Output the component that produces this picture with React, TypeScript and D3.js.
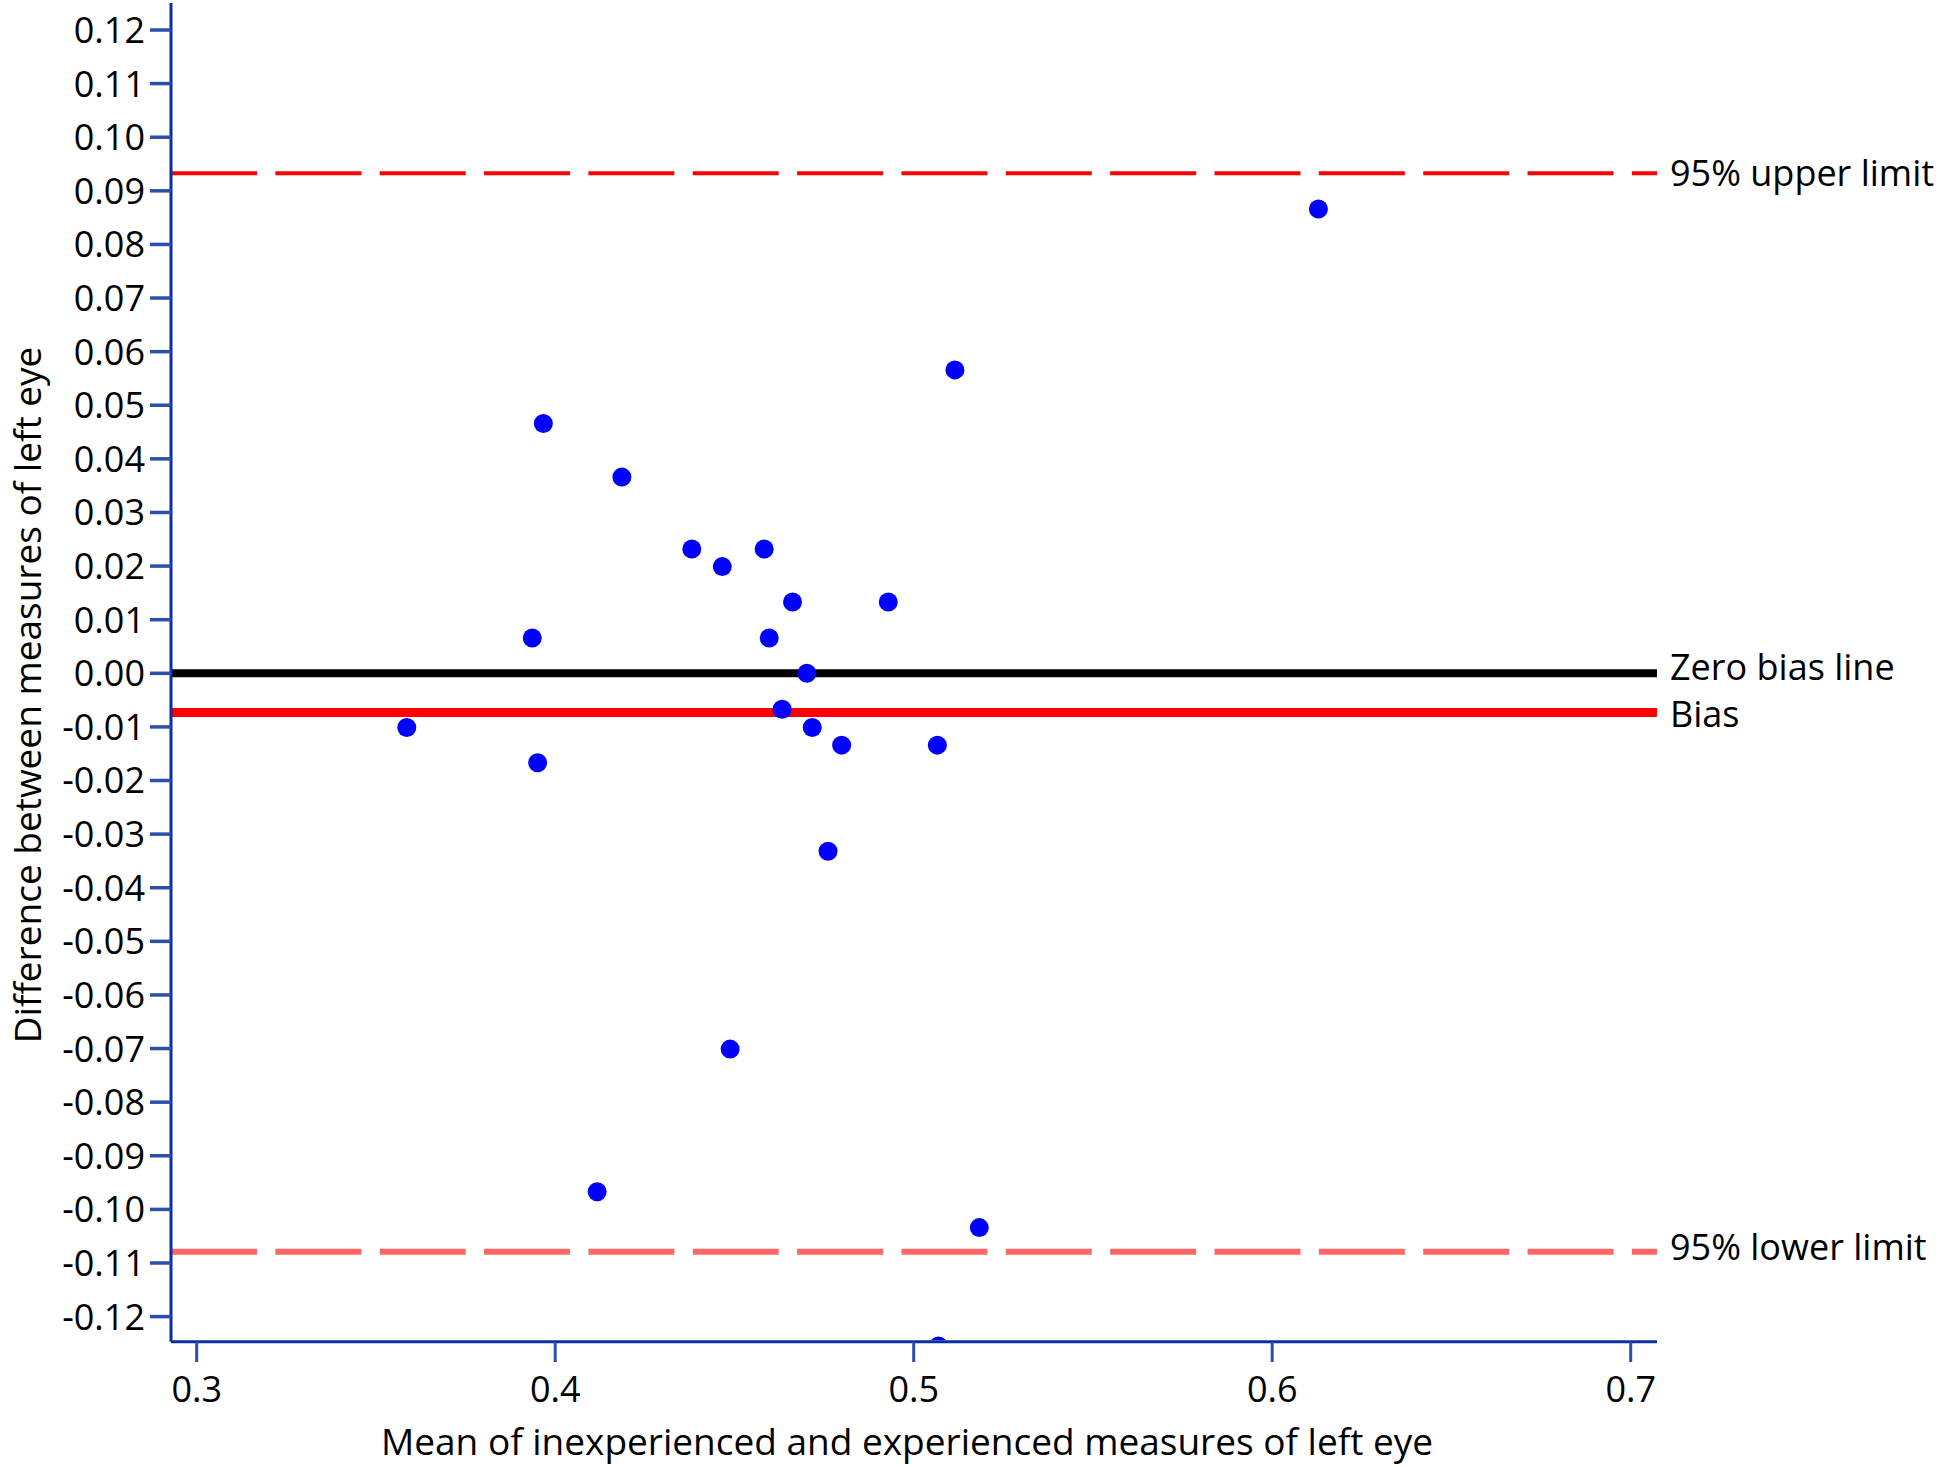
import React from "react";
import * as d3 from "d3";

// ---- data ----
const meanValues = [
  0.3586, 0.3936, 0.3951, 0.3967, 0.4117, 0.4186, 0.4381, 0.4466, 0.4488,
  0.4583, 0.4597, 0.4633, 0.4662, 0.4702, 0.4717, 0.4761, 0.4799, 0.4929,
  0.5066, 0.5069, 0.5115, 0.5183, 0.6129,
];
const diffValues = [
  -0.0101, 0.0066, -0.0167, 0.0466, -0.0967, 0.0366, 0.0232, 0.0199, -0.0701,
  0.0232, 0.0066, -0.0067, 0.0133, 0.0, -0.0101, -0.0332, -0.0134, 0.0133,
  -0.0134, -0.1255, 0.0566, -0.1034, 0.0866,
];
const upperLimit = 0.0933;
const lowerLimit = -0.1079;
const biasValue = -0.0073;
const zeroValue = 0;

const yTickValues = [
  0.12, 0.11, 0.1, 0.09, 0.08, 0.07, 0.06, 0.05, 0.04, 0.03, 0.02, 0.01, 0.0,
  -0.01, -0.02, -0.03, -0.04, -0.05, -0.06, -0.07, -0.08, -0.09, -0.1, -0.11,
  -0.12,
];
const yTickLabels = yTickValues.map((v) => (v === 0 ? "0.00" : v.toFixed(2)));
const xTickValues = [0.3, 0.4, 0.5, 0.6, 0.7];
const xTickLabels = ["0.3", "0.4", "0.5", "0.6", "0.7"];

const xTitle = "Mean of inexperienced and experienced measures of left eye";
const yTitle = "Difference between measures of left eye";
const lineLabels = {
  upper: "95% upper limit",
  zero: "Zero bias line",
  bias: "Bias",
  lower: "95% lower limit",
};

// ---- layout ----
const W = 1946;
const H = 1467;
const axisLeft = 171;
const axisRight = 1657;
const axisTop = 3;
const axisBottom = 1341.7;
const FONT = "'Open Sans', 'Noto Sans', sans-serif";
const AXIS_COLOR = "#0b2f9f";
const TICK_COLOR = "#2a4fae";

export default function App() {
  const x = d3.scaleLinear().domain([0.3, 0.7]).range([196.7, 1630.7]);
  const y = d3.scaleLinear().domain([-0.12, 0.12]).range([1316.6, 30]);

  const points = meanValues.map((m, i) => ({ m, d: diffValues[i] }));
  const hLine = d3
    .line<[number, number]>()
    .x((p) => p[0])
    .y((p) => p[1]);
  const hPath = (v: number) =>
    hLine([
      [axisLeft, y(v)],
      [axisRight, y(v)],
    ]) as string;

  return (
    <svg
      width={W}
      height={H}
      style={{ position: "absolute", left: 0, top: 0, background: "#fff" }}
      fontFamily={FONT}
    >
      <defs>
        <clipPath id="plotClip">
          <rect
            x={axisLeft + 1.5}
            y={0}
            width={axisRight - axisLeft}
            height={axisBottom - 1.5}
          />
        </clipPath>
      </defs>
      <rect x={0} y={0} width={W} height={H} fill="#fff" />

      {/* reference lines */}
      <path
        d={hPath(upperLimit)}
        stroke="#ff0000"
        strokeWidth={4}
        strokeDasharray="86 18.35"
        fill="none"
      />
      <path
        d={hPath(lowerLimit)}
        stroke="#ff6666"
        strokeWidth={6}
        strokeDasharray="86 18.35"
        fill="none"
      />
      <path d={hPath(zeroValue)} stroke="#000" strokeWidth={8} fill="none" />
      <path d={hPath(biasValue)} stroke="#ff0000" strokeWidth={9} fill="none" />

      {/* points */}
      <g clipPath="url(#plotClip)">
        {points.map((p, i) => (
          <circle key={i} cx={x(p.m)} cy={y(p.d)} r={9.5} fill="#0000ff" />
        ))}
      </g>

      {/* y axis */}
      <line
        x1={axisLeft}
        x2={axisLeft}
        y1={axisTop}
        y2={axisBottom}
        stroke={AXIS_COLOR}
        strokeWidth={3}
      />
      {yTickValues.map((v, i) => (
        <g key={i}>
          <line
            x1={150}
            x2={axisLeft}
            y1={y(v)}
            y2={y(v)}
            stroke={TICK_COLOR}
            strokeWidth={3.5}
          />
          <text
            x={145}
            y={y(v)}
            dy="0.36em"
            textAnchor="end"
            fontSize={36}
            fill="#000"
          >
            {yTickLabels[i]}
          </text>
        </g>
      ))}

      {/* x axis */}
      <line
        x1={axisLeft}
        x2={axisRight}
        y1={axisBottom}
        y2={axisBottom}
        stroke={AXIS_COLOR}
        strokeWidth={3}
      />
      {xTickValues.map((v, i) => (
        <g key={i}>
          <line
            x1={x(v)}
            x2={x(v)}
            y1={axisBottom}
            y2={1362}
            stroke={TICK_COLOR}
            strokeWidth={3}
          />
          <text
            x={x(v)}
            y={1401.5}
            textAnchor="middle"
            fontSize={36}
            fill="#000"
          >
            {xTickLabels[i]}
          </text>
        </g>
      ))}

      {/* titles */}
      <text x={907} y={1455} textAnchor="middle" fontSize={37} fill="#000">
        {xTitle}
      </text>
      <text
        transform="translate(41,695) rotate(-90)"
        textAnchor="middle"
        fontSize={37}
        fill="#000"
      >
        {yTitle}
      </text>

      {/* line labels */}
      <text x={1670} y={y(upperLimit)} dy="0.36em" fontSize={36} fill="#000">
        {lineLabels.upper}
      </text>
      <text x={1670} y={y(zeroValue) - 6} dy="0.36em" fontSize={36} fill="#000">
        {lineLabels.zero}
      </text>
      <text x={1670} y={y(biasValue) + 2} dy="0.36em" fontSize={36} fill="#000">
        {lineLabels.bias}
      </text>
      <text x={1670} y={y(lowerLimit) - 5} dy="0.36em" fontSize={36} fill="#000">
        {lineLabels.lower}
      </text>
    </svg>
  );
}
